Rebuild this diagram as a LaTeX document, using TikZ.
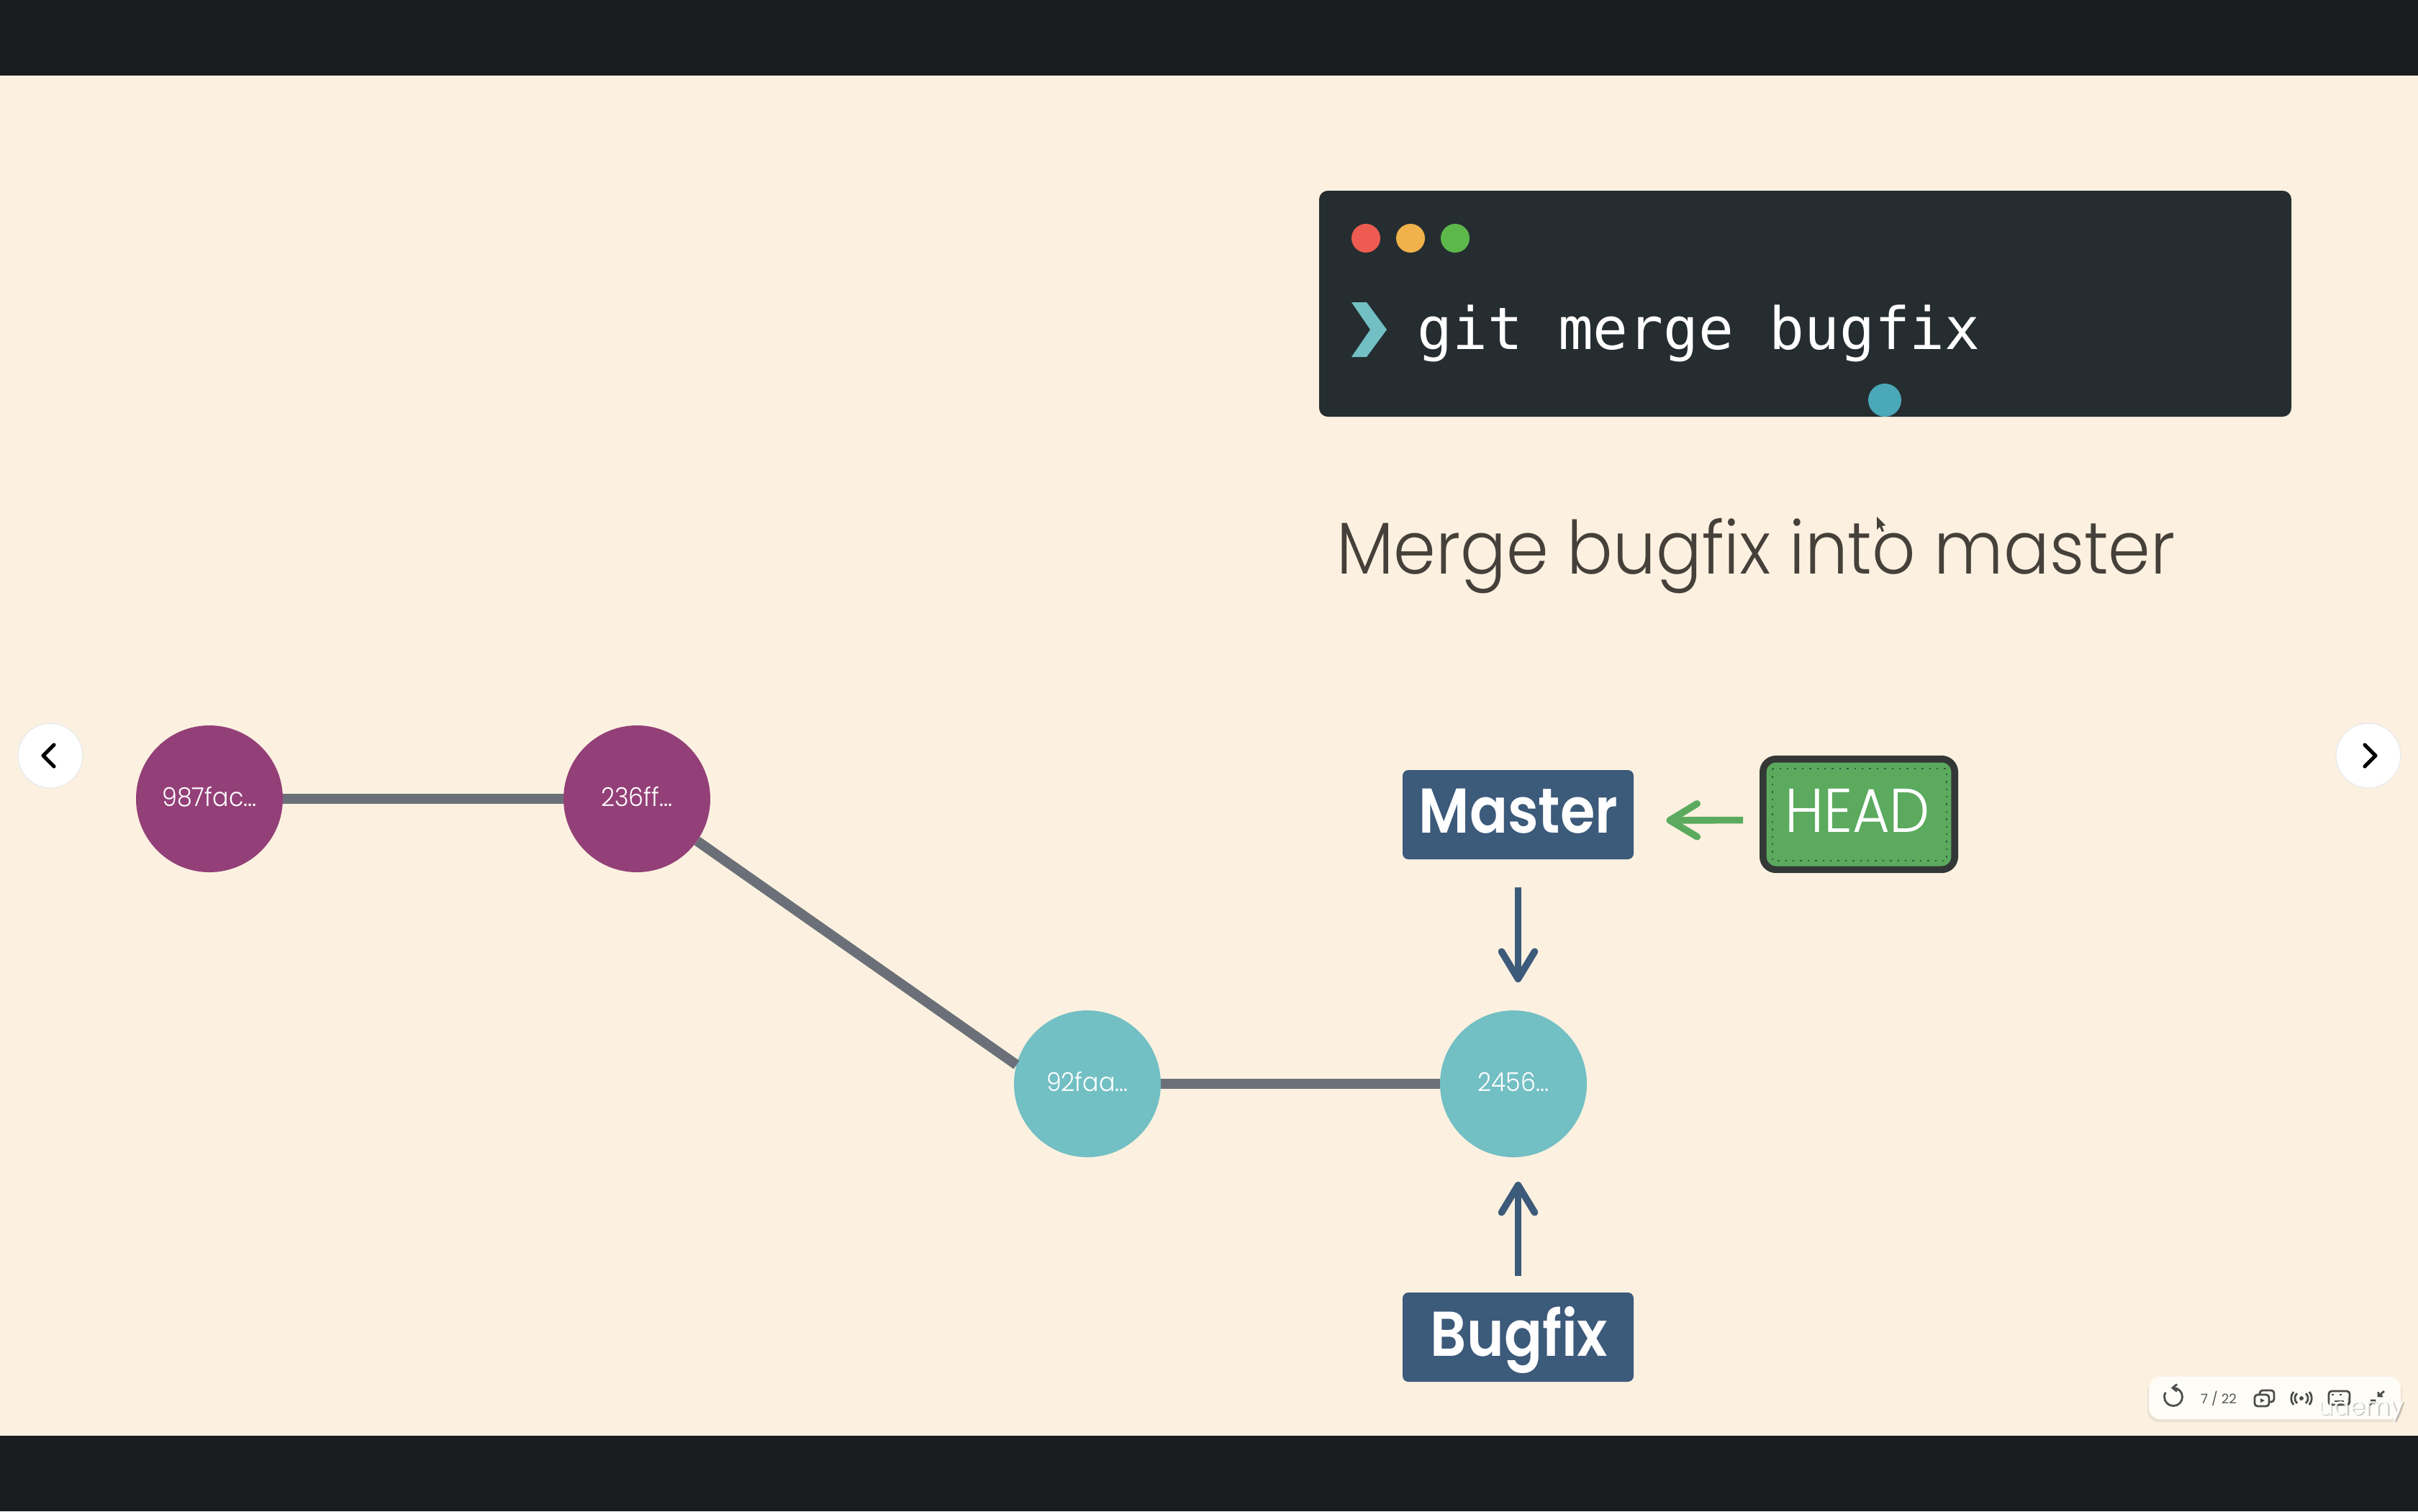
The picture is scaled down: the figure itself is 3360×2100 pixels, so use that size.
\documentclass[tikz,border=0pt]{standalone}
\usepackage{fontspec}
\usetikzlibrary{arrows.meta,calc}
\newfontfamily\slidelight[FakeStretch=0.925]{Poppins Light}
\newfontfamily\slidemedium[FakeStretch=0.89]{Poppins SemiBold}
\newfontfamily\slideregular{Poppins}
\newfontfamily\termfont{DejaVu Sans Mono}
\definecolor{barblack}{RGB}{27,28,30}
\definecolor{slidecream}{RGB}{252,241,224}
\definecolor{termdark}{RGB}{37,45,48}
\definecolor{commitpurple}{RGB}{148,64,120}
\definecolor{committeal}{RGB}{114,191,196}
\definecolor{edgegray}{RGB}{107,112,120}
\definecolor{branchblue}{RGB}{60,90,122}
\definecolor{headgreen}{RGB}{91,170,94}
\definecolor{titlebrown}{RGB}{69,64,58}
\newcommand{\commitlabel}[1]{\raisebox{1.5pt}{#1}}
\tikzset{every picture/.style={line width=0.75pt},
  commit/.style={circle,minimum size=51pt,inner sep=0pt,outer sep=0pt,text=white,font=\slidelight\fontsize{9}{11}\selectfont},
  branchbox/.style={rectangle,rounded corners=2pt,fill=branchblue,minimum width=80.25pt,minimum height=31pt,inner sep=0pt},
  branchtext/.style={anchor=base,text=white,inner sep=0pt,font=\slidemedium\fontsize{22}{27}\selectfont},
  edge/.style={draw=edgegray,line width=3.5pt},
  pointer/.style={line width=2.4pt,-{Straight Barb[length=9.5pt,width=11.5pt,round,line width=2.4pt]}},
  navbtn/.style={circle,fill=white,draw=black!8,line width=0.4pt,minimum size=22.5pt,inner sep=0pt},
  traffic/.style={circle,minimum size=10pt,inner sep=0pt},
  toolicon/.style={draw=black!70,line width=0.7pt}}

\begin{document}
\begin{tikzpicture}[x=0.25pt,y=0.25pt,yscale=-1,xscale=1]
\useasboundingbox (0,0) rectangle (3360,2100);
% Backdrop
\fill [barblack] (0,0) rectangle (3360,2100);
\fill [slidecream] (0,105) rectangle (3360,1995);

% Terminal
\node (term) at (2508.5,422) [rectangle,rounded corners=3pt,fill=termdark,minimum width=337.75pt,minimum height=78.5pt,inner sep=0pt] {};
\node (dotred) at (1898,331) [traffic,fill={rgb,255:red,238;green,91;blue,80}] {};
\node (dotorange) at (1960,331) [traffic,fill={rgb,255:red,240;green,178;blue,74}] {};
\node (dotgreen) at (2022,331) [traffic,fill={rgb,255:red,93;green,184;blue,75}] {};
\fill [committeal] (1878,420) -- (1899,420) -- (1927,458) -- (1899,496) -- (1878,496) -- (1904,458) -- cycle;
\node (cmd) at (1968,485) [anchor=base west,inner sep=0pt,text=white,font=\termfont\fontsize{20.3}{24}\selectfont] {git merge bugfix};
\node (clickdot) at (2619,556) [circle,minimum size=11.5pt,inner sep=0pt,fill={rgb,255:red,74;green,168;blue,184}] {};

% Title
\node (title) at (1856,797) [anchor=base west,inner sep=0pt,text=titlebrown,font=\slidelight\fontsize{25.5}{30}\selectfont] {Merge bugfix into master};
\fill [titlebrown] (2608,718) -- (2608,736) -- (2612,732) -- (2615,739) -- (2618,738) -- (2615,731) -- (2620,730) -- cycle;

% Commits
\node (commita) at (291,1110) [commit,fill=commitpurple] {\commitlabel{987fac...}};
\node (commitb) at (885,1110) [commit,fill=commitpurple] {\commitlabel{236ff...}};
\node (commitc) at (1511,1506) [commit,fill=committeal] {\commitlabel{92faa...}};
\node (commitd) at (2103,1506) [commit,fill=committeal] {\commitlabel{2456...}};

%Straight Lines
\draw [edge] (commita) -- (commitb);
\draw [edge] (commitb.-35) -- (commitc.165);
\draw [edge] (commitc) -- (commitd);

% Branch boxes
\node (master) at (2109.5,1132) [branchbox] {};
\node (mastertext) at (2110,1157) [branchtext] {Master};
\node (bugfix) at (2109.5,1858) [branchbox] {};
\node (bugfixtext) at (2111,1884) [branchtext] {Bugfix};

% Head box
\node (head) at (2583,1131.5) [rectangle,rounded corners=4.5pt,fill=headgreen,draw={rgb,255:red,51;green,56;blue,54},line width=2.4pt,minimum width=66.6pt,minimum height=38.4pt,inner sep=0pt] {};
\draw [dotted,line width=0.6pt,draw={rgb,255:red,50;green,95;blue,60}] (2463,1068) rectangle (2705,1196);
\node (headtext) at (2581,1156) [anchor=base,inner sep=0pt,text=white,font=\slidelight\fontsize{21.5}{26}\selectfont] {HEAD};

%Straight Lines
\draw [pointer,color=headgreen,shorten <=5.75pt,shorten >=11pt] ([yshift=2pt]head.west) -- ([yshift=2pt]master.east);
\draw [pointer,color=branchblue,shorten <=9.25pt,shorten >=9.75pt] (master.south) -- (master.south |- commitd.north);
\draw [pointer,color=branchblue,shorten <=5.5pt,shorten >=8.5pt] (bugfix.north) -- (bugfix.north |- commitd.south);

% Slide buttons
\node (prevbtn) at (70,1050) [navbtn] {};
\node (nextbtn) at (3291,1050) [navbtn] {};
\draw [line width=1.3pt,line cap=round,line join=round] (75,1035) -- (60,1050) -- (75,1065);
\draw [line width=1.3pt,line cap=round,line join=round] (3286,1035) -- (3301,1050) -- (3286,1065);

% Toolbar
\fill [black,opacity=0.06,rounded corners=4pt] (2984,1917) rectangle (3338,1976);
\node (toolbar) at (3161,1942.5) [rectangle,rounded corners=4pt,fill={rgb,255:red,254;green,252;blue,247},minimum width=87.5pt,minimum height=14.75pt,inner sep=0pt] {};
\draw [toolicon] (3020,1928.5) arc (-90:210:12.5);
\draw [toolicon] (3025,1923.5) -- (3019,1928.5) -- (3025,1933.5);
\node (pagenum) at (3083,1943) [inner sep=0pt,text=black!65,font=\slideregular\fontsize{4.6}{6}\selectfont] {7 / 22};
\draw [toolicon,rounded corners=1pt] (3133,1938) rectangle (3153,1954);
\draw [toolicon,rounded corners=1pt] (3140,1938) -- (3140,1932) -- (3160,1932) -- (3160,1948) -- (3153,1948);
\fill [black!70] (3141,1943) -- (3147,1946) -- (3141,1949) -- cycle;
\fill [black!70] (3198,1943) circle (3);
\draw [toolicon] (3192,1950) arc (130:230:9);
\draw [toolicon] (3204,1950) arc (50:-50:9);
\draw [toolicon] (3187,1952) arc (140:220:14);
\draw [toolicon] (3209,1952) arc (40:-40:14);
\draw [toolicon,rounded corners=1pt] (3236,1933) rectangle (3265,1952);
\draw [toolicon,dotted] (3240,1938) -- (3261,1938);
\draw [toolicon] (3244,1947) -- (3257,1947);
\draw [toolicon] (3292,1952) -- (3300,1946) (3294,1946) -- (3300,1946) -- (3300,1951);
\draw [toolicon] (3313,1933) -- (3305,1940) (3305,1934) -- (3305,1940) -- (3311,1940);
\node (udemyshade) at (3282.5,1967.5) [anchor=base,inner sep=0pt,text=black,opacity=0.22,font=\slideregular\fontsize{8.5}{10}\selectfont] {udemy};
\node (udemy) at (3281,1966) [anchor=base,inner sep=0pt,text=white,opacity=0.9,font=\slideregular\fontsize{8.5}{10}\selectfont] {udemy};
\end{tikzpicture}
\end{document}
